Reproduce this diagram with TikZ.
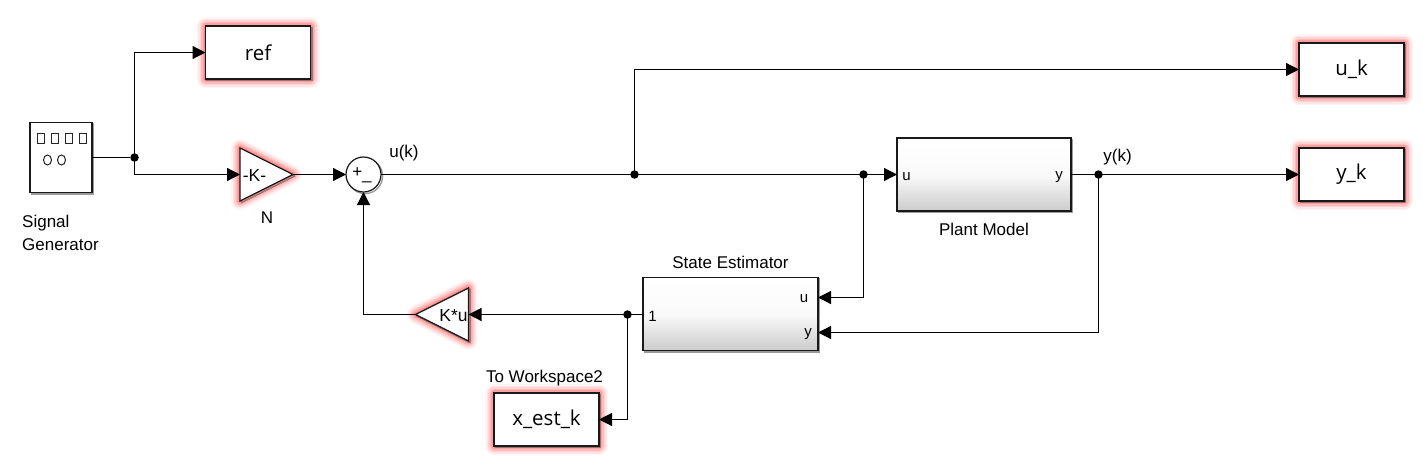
\documentclass[tikz,border=0pt]{standalone}
\usepackage{fontspec}
\setmainfont{Liberation Sans}
\newfontfamily\blockfont{Open Sans}
\usetikzlibrary{arrows.meta,shapes.geometric,calc}
\tikzset{
  x=1pt,y=-1pt,
  wire/.style={line width=1.2pt,draw=black},
  arr/.style={wire,-{Triangle[length=13pt,width=13pt]}},
  dot/.style={circle,fill=black,inner sep=0pt,outer sep=0pt,minimum size=8.5pt},
  shadow/.style={preaction={draw=black!60,line width=1.4pt,opacity=.65,transform canvas={shift={(1.6pt,-1.6pt)}}}},
  glow/.style={
    preaction={draw=red,opacity=.04,line width=18pt,line join=round},
    preaction={draw=red,opacity=.06,line width=15pt,line join=round},
    preaction={draw=red,opacity=.08,line width=12pt,line join=round},
    preaction={draw=red,opacity=.11,line width=9pt,line join=round},
    preaction={draw=red,opacity=.14,line width=6pt,line join=round},
    preaction={draw=red,opacity=.17,line width=3pt,line join=round}},
  blockbase/.style={draw=black!90,line width=1.2pt,outer sep=0pt,inner sep=0pt},
  sink/.style={blockbase,glow,shadow,fill=white,minimum width=105pt,minimum height=53pt,font=\blockfont\fontsize{20.5}{22}\selectfont},
  sub/.style={blockbase,shadow,top color=white,bottom color=black!20,middle color=black!2},
  gainbox/.style={blockbase,glow,shadow,fill=white,isosceles triangle,isosceles triangle stretches,minimum width=53pt,minimum height=53pt},
  lab/.style={font=\fontsize{17}{19}\selectfont,inner sep=0pt},
  portlab/.style={font=\fontsize{15}{17}\selectfont,inner sep=0pt},
}
\begin{document}
\begin{tikzpicture}
\useasboundingbox[fill=white] (0,0) rectangle (1423,466);

% blocks
\node[blockbase,shadow,fill=white,minimum width=62pt,minimum height=70pt] (sg) at (61,157.5) {};
\foreach \i/\xx in {a/40.5,b/54.5,c/68.5,d/82.5}
  \node[draw=black!85,line width=1pt,minimum width=7pt,minimum height=10pt,inner sep=0pt] (sq\i) at (\xx,138.5) {};
\foreach \i/\xx in {a/47.5,b/61.5}
  \node[draw=black!85,line width=1pt,ellipse,minimum width=8pt,minimum height=10pt,inner sep=0pt] (ci\i) at (\xx,160) {};
\node[sink] (ref) at (258,52.5) {ref};
\node[sink] (uk) at (1351.5,69.5) {u\_k};
\node[sink] (yk) at (1351.5,174.5) {y\_k};
\node[sink] (xest) at (546.5,419.5) {x\_est\_k};

\node[gainbox,anchor=apex] (gain) at (293,174.5) {};
\node[font=\fontsize{17.5}{19}\selectfont,inner sep=0pt] (gaint) at (254.5,175.5) {-K-};
\node[gainbox,shape border rotate=180,anchor=apex] (kgain) at (415.5,314.5) {};
\node[font=\fontsize{17.5}{19}\selectfont,inner sep=0pt] (kgaint) at (453.5,315.5) {K*u};

\node[blockbase,shadow,circle,fill=white,minimum size=35pt] (sum) at (363.5,174.5) {};
\node[font=\fontsize{17}{19}\selectfont,inner sep=0pt] (sumt) at (362,175.5) {+\raisebox{-2pt}{\_}};

\node[blockbase,sub,minimum width=174pt,minimum height=73pt] (plant) at (984,174.5) {};
\node[blockbase,sub,minimum width=175pt,minimum height=73pt] (se) at (730.5,314) {};

% named points
\coordinate (seu) at (818,297.5);
\coordinate (sey) at (818,332.5);
\coordinate (sein) at (642.5,314.5);

\node[dot] (j1) at (134.5,157.5) {};
\node[dot] (j2) at (634.5,174.5) {};
\node[dot] (j3) at (863.5,174.5) {};
\node[dot] (j4) at (1098.5,174.5) {};
\node[dot] (j5) at (627.5,314.5) {};

% connectors
\draw[wire] (sg.east) -- (j1);
\draw[arr] (j1.center) |- (ref.west);
\draw[arr] (j1.center) |- (gain.lower side);
\draw[arr] (gain.apex) -- (sum.west);
\draw[wire] (sum.east) -- (j2.center);
\draw[wire] (j2.center) -- (j3.center);
\draw[arr] (j2.center) |- (uk.west);
\draw[arr] (j3.center) -- (plant.west);
\draw[arr] (j3.center) |- (seu);
\draw[wire] (plant.east) -- (j4.center);
\draw[arr] (j4.center) -- (yk.west);
\draw[arr] (j4.center) |- (sey);
\draw[wire] (sein) -- (j5.center);
\draw[arr] (j5.center) -- (kgain.lower side);
\draw[arr] (j5.center) |- (xest.east);
\draw[arr] (kgain.apex) -| (sum.south);

% labels
\node[lab,anchor=base west] (sgl) at (22,227) {Signal};
\node[lab,anchor=base west] (sgm) at (22,250) {Generator};
\node[lab] (nl) at (267,218) {N};
\node[lab] (ukl) at (404,153) {u(k)};
\node[lab] (ykl) at (1117.5,157) {y(k)};
\node[lab] (pl) at (984,229) {Plant Model};
\node[lab] (sel) at (730.5,262) {State Estimator};
\node[lab] (twl) at (544.5,378) {To Workspace2};
\node[portlab] (pu) at (906.5,177) {u};
\node[portlab] (py) at (1059,177) {y};
\node[portlab] (s1) at (652.5,316) {1};
\node[portlab] (su) at (804,299) {u};
\node[portlab] (sy) at (808,334) {y};
\end{tikzpicture}
\end{document}
